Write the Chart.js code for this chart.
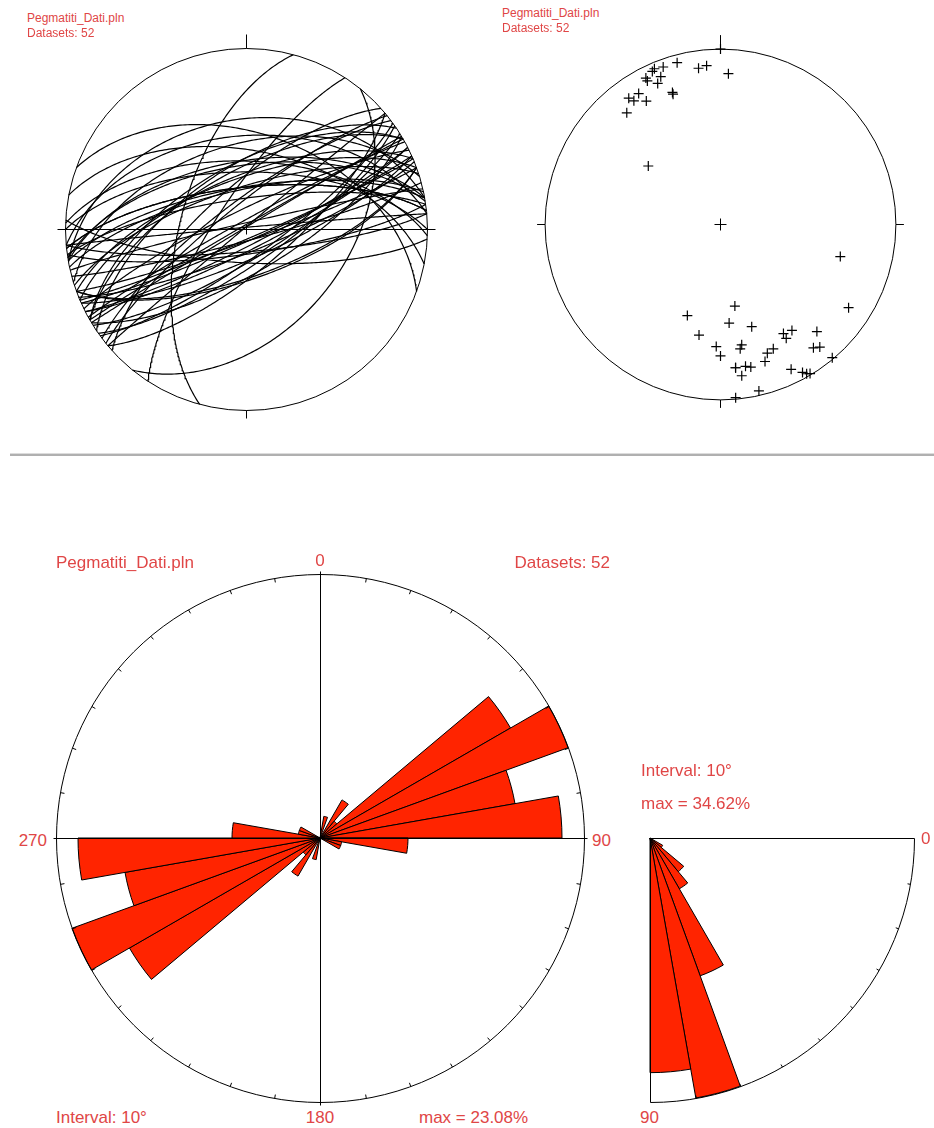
<!DOCTYPE html>
<html>
<head>
<meta charset="utf-8">
<title>Pegmatiti_Dati.pln</title>
<script src="https://cdn.jsdelivr.net/npm/chart.js@4.4.1/dist/chart.umd.min.js"></script>
<style>
  html, body { margin: 0; padding: 0; background: #fff; }
  body { position: relative; width: 934px; height: 1128px; overflow: hidden;
         font-family: "Liberation Sans", Arial, sans-serif; }
  canvas { position: absolute; }
  .lbl { position: absolute; color: #e04646; white-space: nowrap; line-height: 1; }
  .sm { font-size: 12px; }
  .lg { font-size: 17px; }
  .ctr { transform: translateX(-50%); }
  .rgt { transform: translateX(-100%); }
  .rule { position: absolute; left: 10px; top: 453px; width: 924px; height: 3px;
          background: linear-gradient(#dcdcdc 0, #dcdcdc 1px, #b0b0b0 1px, #b0b0b0 3px); }
</style>
</head>
<body>
<!-- great circles -->
<canvas id="planes" width="401" height="401" style="left:46px;top:29px"></canvas>
<div class="lbl sm" style="left:27px;top:12px" data-t="file"></div>
<div class="lbl sm" style="left:27px;top:27px" data-t="count"></div>

<!-- poles -->
<canvas id="poles" width="401" height="401" style="left:520px;top:24px"></canvas>
<div class="lbl sm" style="left:502px;top:7px" data-t="file"></div>
<div class="lbl sm" style="left:502px;top:22px" data-t="count"></div>

<div class="rule"></div>

<!-- strike rose -->
<canvas id="rose" width="540" height="540" style="left:50px;top:568px"></canvas>
<div class="lbl lg" style="left:56px;top:554px" data-t="file"></div>
<div class="lbl lg ctr" style="left:320px;top:552px">0</div>
<div class="lbl lg rgt" style="left:610px;top:554px" data-t="count"></div>
<div class="lbl lg rgt" style="left:47px;top:832px">270</div>
<div class="lbl lg" style="left:592px;top:832px">90</div>
<div class="lbl lg" style="left:56px;top:1109px" data-t="interval"></div>
<div class="lbl lg ctr" style="left:320px;top:1109px">180</div>
<div class="lbl lg" style="left:419px;top:1109px" id="roseMax"></div>

<!-- dip rose -->
<canvas id="dip" width="540" height="540" style="left:380px;top:568px"></canvas>
<div class="lbl lg" style="left:641px;top:762px" data-t="interval"></div>
<div class="lbl lg" style="left:641px;top:795px" id="dipMax"></div>
<div class="lbl lg" style="left:921px;top:830px">0</div>
<div class="lbl lg" style="left:640px;top:1109px">90</div>

<script>
// Plane measurements: dip direction and dip, degrees
const dipDirection = [165,160,157,156,158,153,153,156,172,175,183,160,160,148,144,145,149,140,129,180,
                      285,303,350,20,355,343,11,330,326,330,318,2,351,350,323,321,0,337,340,342,
                      354,354,350,348,352,334,331,330,329,320,347,355];
const dipAngle     = [85,85,86,85,80,83,81,77,79,80,75,69,68,77,78,75,71,72,44,90,
                      60,76,39,46,47,51,54,61,62,64,71,59,61,59,77,79,64,66,67,71,
                      71,71,71,72,76,81,86,88,89,89,87,89];

// Strike rose (bidirectional), counts per 10° bin from 0 to 180
const strikeBinStart = [0,10,20,30,40,50,60,70,80,90,100,110,120,130,140,150,160,170];
const strikeCounts   = [0,1,0,2,1,10,12,9,11,4,1,1,0,0,0,0,0,0];

// Dip histogram, counts per 10° bin from 0 to 90
const dipBinStart = [0,10,20,30,40,50,60,70,80];
const dipCounts   = [0,0,0,1,3,4,10,18,16];

const fileName = 'Pegmatiti_Dati.pln';
const datasetTotal = 52;
const binInterval = 10;

const D2R = Math.PI / 180;
const RED = '#ff2400';

// Text
document.querySelectorAll('[data-t="file"]').forEach(e => e.textContent = fileName);
document.querySelectorAll('[data-t="count"]').forEach(e => e.textContent = 'Datasets: ' + datasetTotal);
document.querySelectorAll('[data-t="interval"]').forEach(e => e.textContent = 'Interval: ' + binInterval + '\u00b0');

const strikePct = strikeCounts.map(c => c / datasetTotal * 100);
const dipPct = dipCounts.map(c => c / datasetTotal * 100);
const roseMax = Math.max(...strikePct);
const dipMax = Math.max(...dipPct);
document.getElementById('roseMax').textContent = 'max = ' + roseMax.toFixed(2) + '%';
document.getElementById('dipMax').textContent = 'max = ' + dipMax.toFixed(2) + '%';

// Lambert equal-area projection, lower hemisphere, primitive radius 1
function project(trend, plunge) {
  const r = Math.SQRT2 * Math.sin((90 - plunge) * D2R / 2);
  return { x: r * Math.sin(trend * D2R), y: r * Math.cos(trend * D2R) };
}
function greatCircle(dd, dip) {
  const sAz = (dd - 90) * D2R, dAz = dd * D2R, d = dip * D2R;
  const pts = [];
  for (let k = 0; k <= 180; k += 1) {
    const f = k * D2R;
    const n = Math.cos(f) * Math.cos(sAz) + Math.sin(f) * Math.cos(d) * Math.cos(dAz);
    const e = Math.cos(f) * Math.sin(sAz) + Math.sin(f) * Math.cos(d) * Math.sin(dAz);
    const down = Math.sin(f) * Math.sin(d);
    const pl = Math.asin(Math.max(-1, Math.min(1, down))) / D2R;
    pts.push(project(Math.atan2(e, n) / D2R, pl));
  }
  return pts;
}
function pole(dd, dip) { return project(dd + 180, 90 - dip); }

const LIM = 200.5 / 181;

function netFrame(centerArm) {
  return {
    id: 'netFrame',
    beforeDatasetsDraw(chart) {
      const { ctx, scales: { x, y } } = chart;
      const cx = x.getPixelForValue(0), cy = y.getPixelForValue(0);
      const R = x.getPixelForValue(1) - cx;
      ctx.save();
      ctx.strokeStyle = '#000';
      ctx.lineWidth = 1;
      ctx.beginPath();
      ctx.arc(cx, cy, R, 0, 2 * Math.PI);
      ctx.stroke();
      ctx.beginPath();
      ctx.moveTo(cx, cy - R); ctx.lineTo(cx, cy - R - 14);
      ctx.moveTo(cx, cy + R); ctx.lineTo(cx, cy + R + 8);
      ctx.moveTo(cx - R, cy); ctx.lineTo(cx - R - 8, cy);
      ctx.moveTo(cx + R, cy); ctx.lineTo(cx + R + 8, cy);
      ctx.moveTo(cx - centerArm, cy); ctx.lineTo(cx + centerArm, cy);
      ctx.moveTo(cx, cy - centerArm); ctx.lineTo(cx, cy + centerArm);
      ctx.stroke();
      ctx.restore();
    }
  };
}

function netOptions() {
  return {
    responsive: false, animation: false, events: [],
    layout: { padding: 0 },
    plugins: { legend: { display: false }, tooltip: { enabled: false } },
    scales: {
      x: { type: 'linear', min: -LIM, max: LIM, display: false },
      y: { type: 'linear', min: -LIM, max: LIM, display: false }
    },
    elements: { line: { tension: 0 } }
  };
}

// Great circles
new Chart(document.getElementById('planes'), {
  type: 'scatter',
  data: {
    datasets: dipDirection.map((dd, i) => ({
      data: greatCircle(dd, dipAngle[i]),
      showLine: true, pointRadius: 0, borderColor: '#000', borderWidth: 1.2, fill: false
    }))
  },
  options: netOptions(),
  plugins: [netFrame(5)]
});

// Poles to planes
new Chart(document.getElementById('poles'), {
  type: 'scatter',
  data: {
    datasets: [{
      data: dipDirection.map((dd, i) => pole(dd, dipAngle[i])),
      showLine: false, pointStyle: 'cross', pointRadius: 5,
      pointBorderColor: '#000', pointBorderWidth: 1.2, pointBackgroundColor: 'rgba(0,0,0,0)'
    }]
  },
  options: netOptions(),
  plugins: [netFrame(6)]
});

// Strike rose
const roseLabels = strikeBinStart.concat(strikeBinStart.map(a => a + 180)).map(String);
new Chart(document.getElementById('rose'), {
  type: 'polarArea',
  data: {
    labels: roseLabels,
    datasets: [{ data: strikePct.concat(strikePct), backgroundColor: RED, borderColor: '#000', borderWidth: 1 }]
  },
  options: {
    responsive: false, animation: false, events: [],
    layout: { padding: 6 },
    plugins: { legend: { display: false }, tooltip: { enabled: false } },
    scales: {
      r: { min: 0, max: roseMax, ticks: { display: false }, grid: { display: false },
           angleLines: { display: false }, pointLabels: { display: false } }
    }
  },
  plugins: [{
    id: 'roseFrame',
    afterDatasetsDraw(chart) {
      const s = chart.scales.r, ctx = chart.ctx;
      const cx = s.xCenter + 0.5, cy = s.yCenter + 0.5, R = s.drawingArea;
      ctx.save();
      ctx.strokeStyle = '#000';
      ctx.lineWidth = 1;
      ctx.beginPath();
      ctx.arc(cx, cy, R, 0, 2 * Math.PI);
      ctx.stroke();
      ctx.beginPath();
      for (let a = 0; a < 360; a += binInterval) {
        const sx = Math.sin(a * D2R), sy = -Math.cos(a * D2R);
        ctx.moveTo(cx + sx * R, cy + sy * R);
        ctx.lineTo(cx + sx * (R - 4), cy + sy * (R - 4));
      }
      ctx.moveTo(cx, cy - R - 3); ctx.lineTo(cx, cy + R + 3);
      ctx.moveTo(cx - R - 3, cy); ctx.lineTo(cx + R + 3, cy);
      ctx.stroke();
      ctx.restore();
    }
  }]
});

// Dip rose: quarter from horizontal (0) to vertical (90), drawn clockwise from east
const dipSlots = roseLabels.map(() => 0);
dipPct.forEach((v, k) => { dipSlots[9 + k] = v; });
new Chart(document.getElementById('dip'), {
  type: 'polarArea',
  data: {
    labels: roseLabels,
    datasets: [{ data: dipSlots, backgroundColor: RED, borderColor: '#000', borderWidth: 1 }]
  },
  options: {
    responsive: false, animation: false, events: [],
    layout: { padding: 6 },
    plugins: { legend: { display: false }, tooltip: { enabled: false } },
    scales: {
      r: { min: 0, max: dipMax, ticks: { display: false }, grid: { display: false },
           angleLines: { display: false }, pointLabels: { display: false } }
    }
  },
  plugins: [{
    id: 'dipFrame',
    afterDatasetsDraw(chart) {
      const s = chart.scales.r, ctx = chart.ctx;
      const cx = s.xCenter + 0.5, cy = s.yCenter + 0.5, R = s.drawingArea;
      ctx.save();
      ctx.strokeStyle = '#000';
      ctx.lineWidth = 1;
      ctx.beginPath();
      ctx.moveTo(cx + R, cy); ctx.lineTo(cx, cy); ctx.lineTo(cx, cy + R);
      ctx.stroke();
      ctx.beginPath();
      ctx.arc(cx, cy, R, 0, Math.PI / 2);
      ctx.stroke();
      ctx.beginPath();
      for (let a = binInterval; a < 90; a += binInterval) {
        const c = Math.cos(a * D2R), sn = Math.sin(a * D2R);
        ctx.moveTo(cx + c * R, cy + sn * R);
        ctx.lineTo(cx + c * (R - 3), cy + sn * (R - 3));
      }
      ctx.stroke();
      ctx.restore();
    }
  }]
});
</script>
</body>
</html>
